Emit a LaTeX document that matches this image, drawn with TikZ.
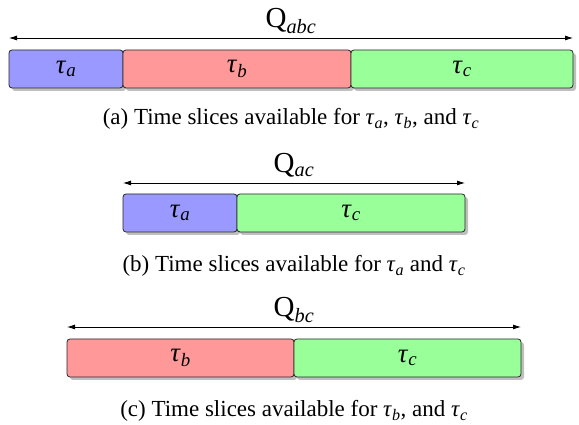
\documentclass[tikz,border=0pt]{standalone}
\usepackage{fontspec}
\setmainfont{Liberation Serif}
\usetikzlibrary{shadows,arrows.meta}

\definecolor{sliceA}{RGB}{153,153,255}
\definecolor{sliceB}{RGB}{255,153,153}
\definecolor{sliceC}{RGB}{153,255,153}

% task symbol and quantum symbol, set as text
\newcommand{\tsk}[1]{\textit{τ}\textsubscript{\textit{#1}}}
\newcommand{\qnt}[1]{Q\textsubscript{\textit{#1}}}

\tikzset{
  slice/.style={draw=black!85, line width=0.8pt, rounded corners=3pt, anchor=north west,
    minimum height=38pt, inner sep=0pt, outer sep=0pt,
    drop shadow={shadow xshift=3pt, shadow yshift=-3pt},
    font=\fontsize{27}{29}\selectfont},
  span/.style={{Latex[length=8pt,width=5pt]}-{Latex[length=8pt,width=5pt]}, line width=0.8pt},
  quantum/.style={anchor=base, yshift=10pt, inner sep=0pt, font=\fontsize{29}{31}\selectfont},
  caption/.style={anchor=base, font=\fontsize{23}{25}\selectfont},
}

\begin{document}
\begin{tikzpicture}[x=1pt,y=1pt]
  \useasboundingbox (0,0) rectangle (579,425);

  % (a) all three tasks
  \node[slice, fill=sliceA, minimum width=114pt] (ta1) at (9,375) {\tsk{a}};
  \node[slice, fill=sliceB, minimum width=228pt] (tb1) at (ta1.north east) {\tsk{b}};
  \node[slice, fill=sliceC, minimum width=222pt] (tc1) at (tb1.north east) {\tsk{c}};
  \draw[span] ([yshift=12pt]ta1.north west) -- ([yshift=12pt]tc1.north east)
    node[quantum, midway] (q1) {\qnt{abc}};
  \node[caption] (cap1) at (291,300) {(a) Time slices available for \tsk{a}, \tsk{b}, and \tsk{c}};

  % (b) tau_a and tau_c
  \node[slice, fill=sliceA, minimum width=114pt] (ta2) at (123,231) {\tsk{a}};
  \node[slice, fill=sliceC, minimum width=228pt] (tc2) at (ta2.north east) {\tsk{c}};
  \draw[span] ([yshift=11pt]ta2.north west) -- ([yshift=11pt]tc2.north east)
    node[quantum, midway] (q2) {\qnt{ac}};
  \node[caption] (cap2) at (294,153) {(b) Time slices available for \tsk{a} and \tsk{c}};

  % (c) tau_b and tau_c
  \node[slice, fill=sliceB, minimum width=227pt] (tb3) at (67,86) {\tsk{b}};
  \node[slice, fill=sliceC, minimum width=227pt] (tc3) at (tb3.north east) {\tsk{c}};
  \draw[span] ([yshift=12pt]tb3.north west) -- ([yshift=12pt]tc3.north east)
    node[quantum, midway] (q3) {\qnt{bc}};
  \node[caption] (cap3) at (294,8) {(c) Time slices available for \tsk{b}, and \tsk{c}};
\end{tikzpicture}
\end{document}
